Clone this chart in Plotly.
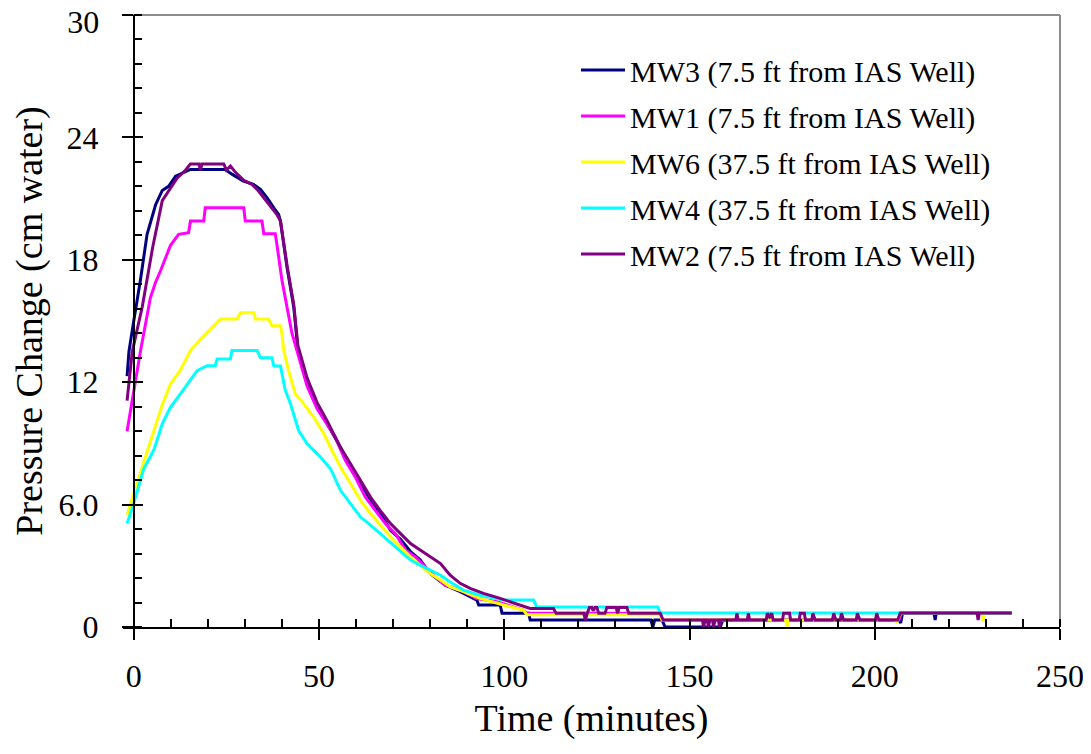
import plotly.graph_objects as go

# ---------------- data ----------------
names = ["MW3 (7.5 ft from IAS Well)", "MW1 (7.5 ft from IAS Well)",
         "MW6 (37.5 ft from IAS Well)", "MW4 (37.5 ft from IAS Well)",
         "MW2 (7.5 ft from IAS Well)"]
colors = ["#000080", "#FF00FF", "#FFFF00", "#00FFFF", "#800080"]

t_mw3 = [-1.8, -1.3, 0, 1.8, 3.6, 5.9, 7.7, 9.4, 11.3, 13.4, 15.3, 24.7, 26.5, 29.6, 32.3,
         34.2, 36.0, 37.8, 39.1, 39.6, 41.4, 43.2, 44.3, 46.8, 49.5, 52.2, 55.8, 58.5, 61.2, 63.9,
         66.5, 69.3, 72.0, 74.7, 77.3, 80.0, 84.1, 88.1, 92.6, 93.1, 98.9, 99.4, 106.6, 107.0, 139.6,
         140.1, 140.6, 142.6, 143.4, 158.3, 159.0, 206.5, 207.0, 207.5, 216.0, 216.3, 216.6, 237.0]
p_mw3 = [12.3, 13.5, 15.0, 17.0, 19.25, 20.7, 21.4, 21.6, 22.1, 22.26, 22.43, 22.43, 22.2, 21.86, 21.7,
         21.45, 21.04, 20.55, 20.23, 19.9, 17.6, 15.66, 13.6, 11.9, 10.77, 9.96, 8.8, 7.9, 7.0, 6.2,
         5.6, 4.74, 4.3, 3.7, 3.3, 2.62, 2.05, 1.73, 1.32, 1.08, 1.08, 0.67, 0.67, 0.34, 0.34,
         0.0, 0.34, 0.34, 0.0, 0.0, 0.34, 0.34, 0.2, 0.69, 0.69, 0.34, 0.69, 0.69]

t_mw1 = [-1.8, 0, 1.8, 4.5, 5.9, 7.2, 8.6, 9.9, 12.1, 14.8, 15.3, 18.9, 19.3, 29.7, 30.1,
         34.6, 35.1, 38.2, 38.7, 40.0, 42.7, 44.5, 46.8, 49.5, 52.2, 54.4, 57.1, 59.8, 62.5, 65.2,
         67.9, 70.6, 73.3, 76.0, 78.7, 81.4, 84.1, 88.1, 92.6, 98.0, 105.2, 106.1, 142.0, 142.6, 206.5,
         207.3, 237.0]
p_mw1 = [9.6, 11.6, 13.5, 16.15, 16.9, 17.45, 18.1, 18.7, 19.25, 19.33, 19.9, 19.9, 20.55, 20.55, 19.9,
         19.9, 19.28, 19.28, 18.68, 17.0, 14.4, 13.2, 11.8, 10.7, 9.9, 9.3, 8.17, 7.35, 6.37, 5.72,
         5.07, 4.58, 3.77, 3.44, 2.95, 2.46, 2.05, 1.81, 1.40, 1.24, 0.83, 0.67, 0.67, 0.34, 0.34,
         0.69, 0.69]

t_mw6 = [-1.8, 0, 2.7, 4.5, 7.7, 9.9, 12.6, 15.3, 18.0, 20.2, 23.4, 27.9, 28.8, 32.4, 32.8,
         36.4, 37.3, 39.6, 40.0, 40.5, 41.8, 43.6, 45.9, 48.6, 51.3, 53.1, 55.8, 58.5, 61.2, 63.9,
         66.5, 69.3, 72.0, 74.7, 77.3, 80.0, 82.8, 85.4, 89.0, 93.5, 99.8, 105.2, 106.1, 142.0, 142.6,
         176.0, 176.3, 176.6, 205.6, 205.9, 207.0, 229.0, 229.2, 229.6, 237.0]
p_mw6 = [5.5, 6.5, 8.0, 9.1, 10.9, 11.9, 12.6, 13.55, 14.1, 14.5, 15.1, 15.1, 15.4, 15.4, 15.1,
         15.1, 14.77, 14.77, 14.36, 13.55, 12.57, 11.43, 10.94, 10.28, 9.47, 8.8, 7.84, 7.03, 6.21, 5.56,
         4.99, 4.42, 3.93, 3.44, 3.03, 2.62, 2.30, 1.97, 1.73, 1.40, 1.08, 0.83, 0.6, 0.6, 0.34,
         0.34, 0.0, 0.34, 0.34, 0.2, 0.69, 0.69, 0.3, 0.69, 0.69]

t_mw4 = [-1.8, 0, 2.7, 5.4, 7.7, 9.9, 12.6, 15.3, 17.1, 19.8, 22.0, 22.5, 26.1, 26.5, 33.3,
         34.2, 37.3, 37.8, 39.6, 40.9, 42.3, 44.5, 46.8, 50.4, 53.1, 55.8, 58.5, 61.2, 63.9, 66.5,
         69.3, 72.0, 74.7, 77.3, 80.0, 82.8, 85.4, 89.0, 93.5, 99.8, 107.9, 108.8, 141.5, 142.0, 237.0]
p_mw4 = [5.07, 6.05, 7.76, 8.66, 9.96, 10.77, 11.43, 12.08, 12.57, 12.81, 12.81, 13.14, 13.14, 13.55, 13.55,
         13.2, 13.2, 12.8, 12.8, 11.6, 10.94, 9.63, 8.98, 8.33, 7.76, 6.70, 6.05, 5.39, 4.99, 4.58,
         4.09, 3.68, 3.28, 3.03, 2.79, 2.54, 2.21, 1.81, 1.56, 1.32, 1.32, 0.98, 0.98, 0.69, 0.69]

t_mw2 = [-1.8, -0.4, 2.3, 5.1, 7.7, 9.9, 11.7, 14.0, 15.3, 17.6, 18.0, 18.4, 24.3, 25.0, 26.1,
         27.4, 29.7, 31.9, 33.3, 35.1, 36.9, 38.7, 39.6, 41.4, 43.2, 44.3, 46.8, 49.5, 52.2, 55.8,
         58.5, 61.2, 63.9, 66.5, 69.3, 72.0, 74.7, 77.3, 80.0, 82.8, 85.4, 88.1, 90.8, 94.4, 98.9,
         104.3, 107.0, 113.3, 114.0, 121.5, 121.9, 122.4, 123.0, 123.6, 124.0, 124.5, 125.0, 125.5, 127.2,
         127.7, 130.2, 130.6, 131.0, 133.1, 133.6, 142.1, 142.9, 153.5, 153.8, 154.2, 154.8, 155.1, 155.5,
         156.2, 156.5, 156.9, 157.8, 158.1, 158.5, 162.5, 162.8, 163.1, 165.6, 165.9, 166.2, 170.7, 171.0,
         171.6, 172.2, 172.6, 175.1, 175.4, 177.0, 177.3, 179.6, 179.9, 181.0, 181.3, 183.0, 183.3, 183.9,
         188.6, 188.9, 189.5, 190.7, 191.0, 191.6, 195.0, 195.3, 196.0, 200.2, 200.5, 201.1, 206.2, 206.9,
         227.6, 227.9, 228.2, 237.0]
p_mw2 = [11.1, 13.5, 15.7, 18.6, 20.9, 21.5, 22.0, 22.4, 22.7, 22.7, 22.4, 22.7, 22.7, 22.4, 22.6,
         22.3, 21.9, 21.7, 21.45, 21.04, 20.6, 20.2, 19.9, 17.7, 15.8, 13.8, 12.2, 11.0, 10.1, 8.8,
         8.0, 7.19, 6.37, 5.72, 5.07, 4.58, 4.09, 3.77, 3.44, 3.11, 2.54, 2.14, 1.89, 1.65, 1.40,
         1.08, 0.91, 0.91, 0.67, 0.67, 0.34, 0.67, 0.96, 0.96, 0.80, 0.96, 0.96, 0.67, 0.67,
         0.96, 0.96, 0.67, 0.96, 0.96, 0.67, 0.67, 0.34, 0.34, 0.0, 0.34, 0.34, 0.0, 0.34,
         0.34, 0.0, 0.34, 0.34, 0.0, 0.34, 0.34, 0.67, 0.34, 0.34, 0.67, 0.34, 0.34, 0.67,
         0.50, 0.67, 0.34, 0.34, 0.67, 0.67, 0.34, 0.34, 0.67, 0.67, 0.34, 0.34, 0.67, 0.34,
         0.34, 0.67, 0.34, 0.34, 0.67, 0.34, 0.34, 0.67, 0.34, 0.34, 0.67, 0.34, 0.34, 0.69,
         0.69, 0.34, 0.69, 0.69]

x_ticks = [0, 50, 100, 150, 200, 250]
y_ticks = [0, 6, 12, 18, 24, 30]
y_tick_text = ["0", "6.0", "12", "18", "24", "30"]

times = [t_mw3, t_mw1, t_mw6, t_mw4, t_mw2]
values = [p_mw3, p_mw1, p_mw6, p_mw4, p_mw2]
for a, b in zip(times, values):
    assert len(a) == len(b), (len(a), len(b))

# ---------------- figure ----------------
FONT = "Liberation Serif"
x_min, x_max = -2.9, 250
y_min, y_max = 0, 30
y_axis_pos = (0 - x_min) / (x_max - x_min)

# the page has an 8px body margin, so the figure is sized to fit inside the window
W, H = 1083, 746
ML, MR, MT, MB = 115, 31, 7, 127
PW, PH = W - ML - MR, H - MT - MB

fig = go.Figure()
for name, t, p, c in zip(names, times, values, colors):
    fig.add_trace(go.Scatter(x=t, y=p, mode="lines", name=name, legendgroup=name,
                             line=dict(color=c, width=3)))

# empty helper traces so the overlay tick axes are always rendered
for xa, ya in [("x2", "y"), ("x", "y2"), ("x", "y3")]:
    fig.add_trace(go.Scatter(x=[], y=[], xaxis=xa, yaxis=ya, mode="lines",
                             showlegend=False, hoverinfo="skip"))

tick_common = dict(tickcolor="black", tickwidth=1.5, showgrid=False, zeroline=False,
                   automargin=False)

# top label is nudged down (as in the reference) via its own overlay axis
main_y_text = [s if v != y_max else "" for v, s in zip(y_ticks, y_tick_text)]

fig.update_layout(
    width=W, height=H,
    margin=dict(l=ML, r=MR, t=MT, b=MB),
    paper_bgcolor="white", plot_bgcolor="white",
    font=dict(family=FONT, size=32, color="black"),
    showlegend=True,
    legend=dict(x=(568 - ML) / PW, y=1 - (36 - MT) / PH, xanchor="left", yanchor="top",
                bgcolor="rgba(0,0,0,0)", font=dict(family=FONT, size=30, color="black"),
                tracegroupgap=4, itemwidth=44),
    xaxis=dict(range=[x_min, x_max], tickmode="array", tickvals=x_ticks,
               ticks="outside", ticklen=11, ticklabelstandoff=9,
               ticklabeloverflow="allow",
               showline=True, linecolor="black", linewidth=1.5,
               minor=dict(ticks="inside", tick0=0, dtick=10, ticklen=8, tickwidth=1.5,
                          tickcolor="black", showgrid=False),
               title=dict(text="Time (minutes)", standoff=11),
               **tick_common),
    xaxis2=dict(overlaying="x", anchor="y", side="bottom", range=[x_min, x_max],
                tickmode="array", tickvals=x_ticks, ticks="inside", ticklen=8,
                showticklabels=False, showline=False, **tick_common),
    yaxis=dict(range=[y_min, y_max], anchor="free", position=y_axis_pos,
               tickmode="array", tickvals=y_ticks, ticktext=main_y_text,
               ticks="outside", ticklen=11, ticklabelstandoff=17,
               ticklabeloverflow="allow",
               showline=True, linecolor="black", linewidth=1.5,
               minor=dict(ticks="inside", tick0=0, dtick=1.2, ticklen=8, tickwidth=1.5,
                          tickcolor="black", showgrid=False),
               title=dict(text="Pressure Change (cm water)", standoff=10),
               **tick_common),
    yaxis2=dict(overlaying="y", anchor="free", position=y_axis_pos, range=[y_min, y_max],
                tickmode="array", tickvals=y_ticks, ticks="inside", ticklen=8,
                showticklabels=False, showline=False, **tick_common),
    yaxis3=dict(overlaying="y", anchor="free", position=y_axis_pos, range=[y_min, y_max],
                tickmode="array", tickvals=[y_max], ticktext=[y_tick_text[-1]],
                ticks="outside", ticklen=11, tickcolor="rgba(0,0,0,0)",
                ticklabelstandoff=17, ticklabelshift=7, ticklabeloverflow="allow",
                showline=False, showgrid=False, zeroline=False, automargin=False),
    shapes=[
        dict(type="line", xref="x domain", yref="y domain", x0=0, x1=1, y0=1, y1=1,
             line=dict(color="#8c8c8c", width=2), layer="below"),
        dict(type="line", xref="x domain", yref="y domain", x0=1, x1=1, y0=0, y1=1,
             line=dict(color="#8c8c8c", width=2), layer="below"),
    ],
)

fig.write_html("out.html")
